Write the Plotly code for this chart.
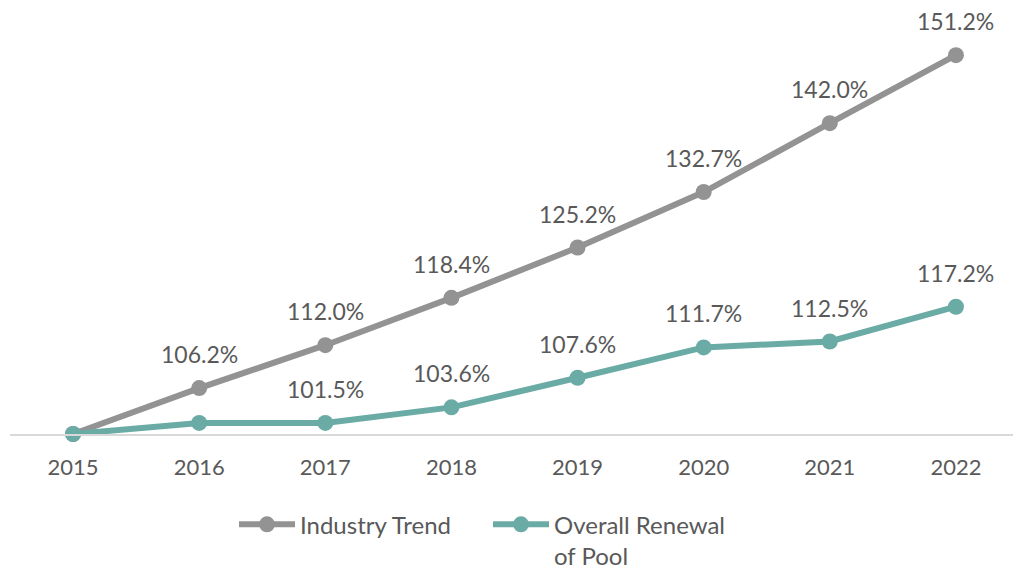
import plotly.graph_objects as go

years = ["2015", "2016", "2017", "2018", "2019", "2020", "2021", "2022"]
industry = [100.0, 106.2, 112.0, 118.4, 125.2, 132.7, 142.0, 151.2]
renewal = [100.0, 101.5, 101.5, 103.6, 107.6, 111.7, 112.5, 117.2]
industry_labels = ["", "106.2%", "112.0%", "118.4%", "125.2%", "132.7%", "142.0%", "151.2%"]
renewal_labels = ["", "", "101.5%", "103.6%", "107.6%", "111.7%", "112.5%", "117.2%"]

GRAY = "#939393"
TEAL = "#6aaba5"
TXT = "#595959"
FONT = "Lato"

fig = go.Figure()
fig.add_trace(go.Scatter(
    x=years, y=industry, name="Industry Trend", mode="lines+markers",
    line=dict(color=GRAY, width=6), marker=dict(color=GRAY, size=16),
    cliponaxis=False,
))
fig.add_trace(go.Scatter(
    x=years, y=renewal, name="Overall Renewal<br>of Pool", mode="lines+markers",
    line=dict(color=TEAL, width=6), marker=dict(color=TEAL, size=16),
    cliponaxis=False,
))

for ys, labels in [(industry, industry_labels), (renewal, renewal_labels)]:
    for i, (yv, lab) in enumerate(zip(ys, labels)):
        if lab:
            fig.add_annotation(x=i, y=yv, xref="x", yref="y", text=lab, showarrow=False,
                               yshift=34, yanchor="middle", xanchor="center",
                               font=dict(family=FONT, size=23, color=TXT))

# page body has an 8px margin, so figure is sized to the visible area
fig.update_layout(
    width=1013, height=561,
    margin=dict(l=2, r=2, t=2, b=135, autoexpand=False),
    paper_bgcolor="white", plot_bgcolor="white",
    font=dict(family=FONT, size=22, color=TXT),
    showlegend=True,
    legend=dict(orientation="h", x=0.222, xanchor="left", y=-0.161, yanchor="top",
                font=dict(family=FONT, size=24, color=TXT), itemwidth=56,
                entrywidth=183, entrywidthmode="pixels",
                traceorder="normal", valign="top"),
    xaxis=dict(type="category", range=[-0.5, 7.5], showline=True, linecolor="#d9d9d9",
               linewidth=2, showgrid=False, ticks="outside", ticklen=13,
               tickcolor="rgba(0,0,0,0)",
               tickfont=dict(family=FONT, size=22, color=TXT), fixedrange=True),
    yaxis=dict(range=[100, 157.3], visible=False, showgrid=False, zeroline=False),
)

fig.write_html("out.html")
